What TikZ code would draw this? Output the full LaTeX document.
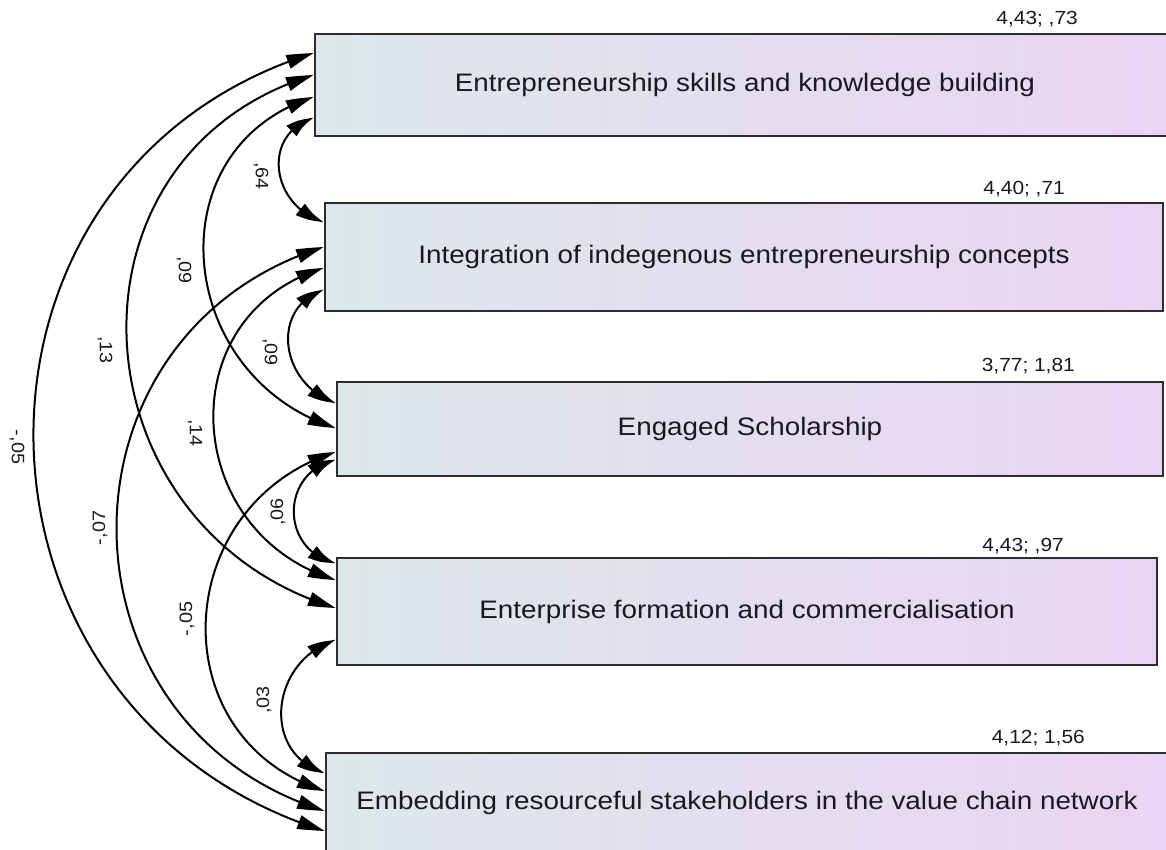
\documentclass[tikz,border=0pt]{standalone}
\usepackage{fontspec}
\setmainfont{Liberation Sans}
\newfontfamily\diagfont[FakeStretch=1.1]{Liberation Sans}
\usetikzlibrary{arrows.meta,bending}
\definecolor{boxleft}{RGB}{221,232,234}
\definecolor{boxright}{RGB}{234,212,243}
\definecolor{boxline}{RGB}{45,45,45}
\definecolor{txt}{RGB}{25,25,35}

\begin{document}
\begin{tikzpicture}[x=1pt, y=-1pt,
    factor/.style={draw=boxline, line width=2.5pt, rectangle, inner sep=0pt,
        left color=boxleft, right color=boxright, text=txt,
        font=\diagfont\fontsize{25.3}{29}\selectfont},
    stat/.style={text=txt, inner sep=0pt, anchor=base east,
        font=\diagfont\fontsize{19}{22}\selectfont},
    coef/.style={text=txt, inner sep=1pt, font=\diagfont\fontsize{18}{20}\selectfont},
    cov/.style={{Triangle[length=28pt,width=14pt,bend]}-{Triangle[length=28pt,width=14pt,bend]},
        line width=2pt}]
                \useasboundingbox (0,0) rectangle (1166,850);

                % Factors
                \node[factor, minimum width=860pt, minimum height=102pt] (f1) at (745, 85) {Entrepreneurship skills and knowledge building};
                \node[factor, minimum width=838pt, minimum height=108pt] (f2) at (744, 257) {Integration of indegenous entrepreneurship concepts};
                \node[factor, minimum width=826pt, minimum height=94pt] (f3) at (750, 429) {Engaged Scholarship};
                \node[factor, minimum width=820pt, minimum height=107pt] (f4) at (747, 611.5) {Enterprise formation and commercialisation};
                \node[factor, minimum width=842pt, minimum height=100pt] (f5) at (747, 803) {Embedding resourceful stakeholders in the value chain network};

                % Means and variances
                \node[stat] (m1) at (1078, 25) {4,43; ,73};
                \node[stat] (m2) at (1065, 195) {4,40; ,71};
                \node[stat] (m3) at (1075, 371) {3,77; 1,81};
                \node[stat] (m4) at (1064, 551) {4,43; ,97};
                \node[stat] (m5) at (1085, 743) {4,12; 1,56};

                % Covariances
                \draw[cov] ([yshift=-33pt]f1.west) .. controls +(-53,16) and +(-53,-16) .. ([yshift=35pt]f2.west);
                \draw[cov] ([yshift=-12pt]f1.west) .. controls +(-161,51) and +(-161,-51) .. ([yshift=1pt]f3.west);
                \draw[cov] ([yshift=10pt]f1.west) .. controls +(-264,80) and +(-264,-80) .. ([yshift=3.5pt]f4.west);
                \draw[cov] ([yshift=32pt]f1.west) .. controls +(-381,119) and +(-381,-119) .. ([yshift=-28pt]f5.west);

                \draw[cov] ([yshift=-33pt]f2.west) .. controls +(-55,18) and +(-55,-18) .. ([yshift=26pt]f3.west);
                \draw[cov] ([yshift=-11pt]f2.west) .. controls +(-155,47) and +(-155,-47) .. ([yshift=31.5pt]f4.west);
                \draw[cov] ([yshift=10pt]f2.west) .. controls +(-277,86) and +(-277,-86) .. ([yshift=-8pt]f5.west);

                \draw[cov] ([yshift=-31pt]f3.west) .. controls +(-56,12) and +(-56,-12) .. ([yshift=48.5pt]f4.west);
                \draw[cov] ([yshift=-23pt]f3.west) .. controls +(-166,52) and +(-166,-52) .. ([yshift=12pt]f5.west);

                \draw[cov] ([yshift=-28.5pt]f4.west) .. controls +(-65,20) and +(-65,-20) .. ([yshift=30pt]f5.west);

                % Correlations
                \node[coef, rotate=-90] (r12) at (261, 176) {,64};
                \node[coef, rotate=-90] (r13) at (184, 270) {,09};
                \node[coef, rotate=-90] (r14) at (105, 350) {,13};
                \node[coef, rotate=-90] (r15) at (17, 447) {-,05};
                \node[coef, rotate=-90] (r23) at (270, 352) {,09};
                \node[coef, rotate=-90] (r24) at (195, 433) {,14};
                \node[coef, rotate=90] (r25) at (100, 528) {-,07};
                \node[coef, rotate=90] (r34) at (278, 512) {,06};
                \node[coef, rotate=90] (r35) at (187, 619) {-,05};
                \node[coef, rotate=90] (r45) at (264, 700) {,03};
            \end{tikzpicture}
\end{document}
